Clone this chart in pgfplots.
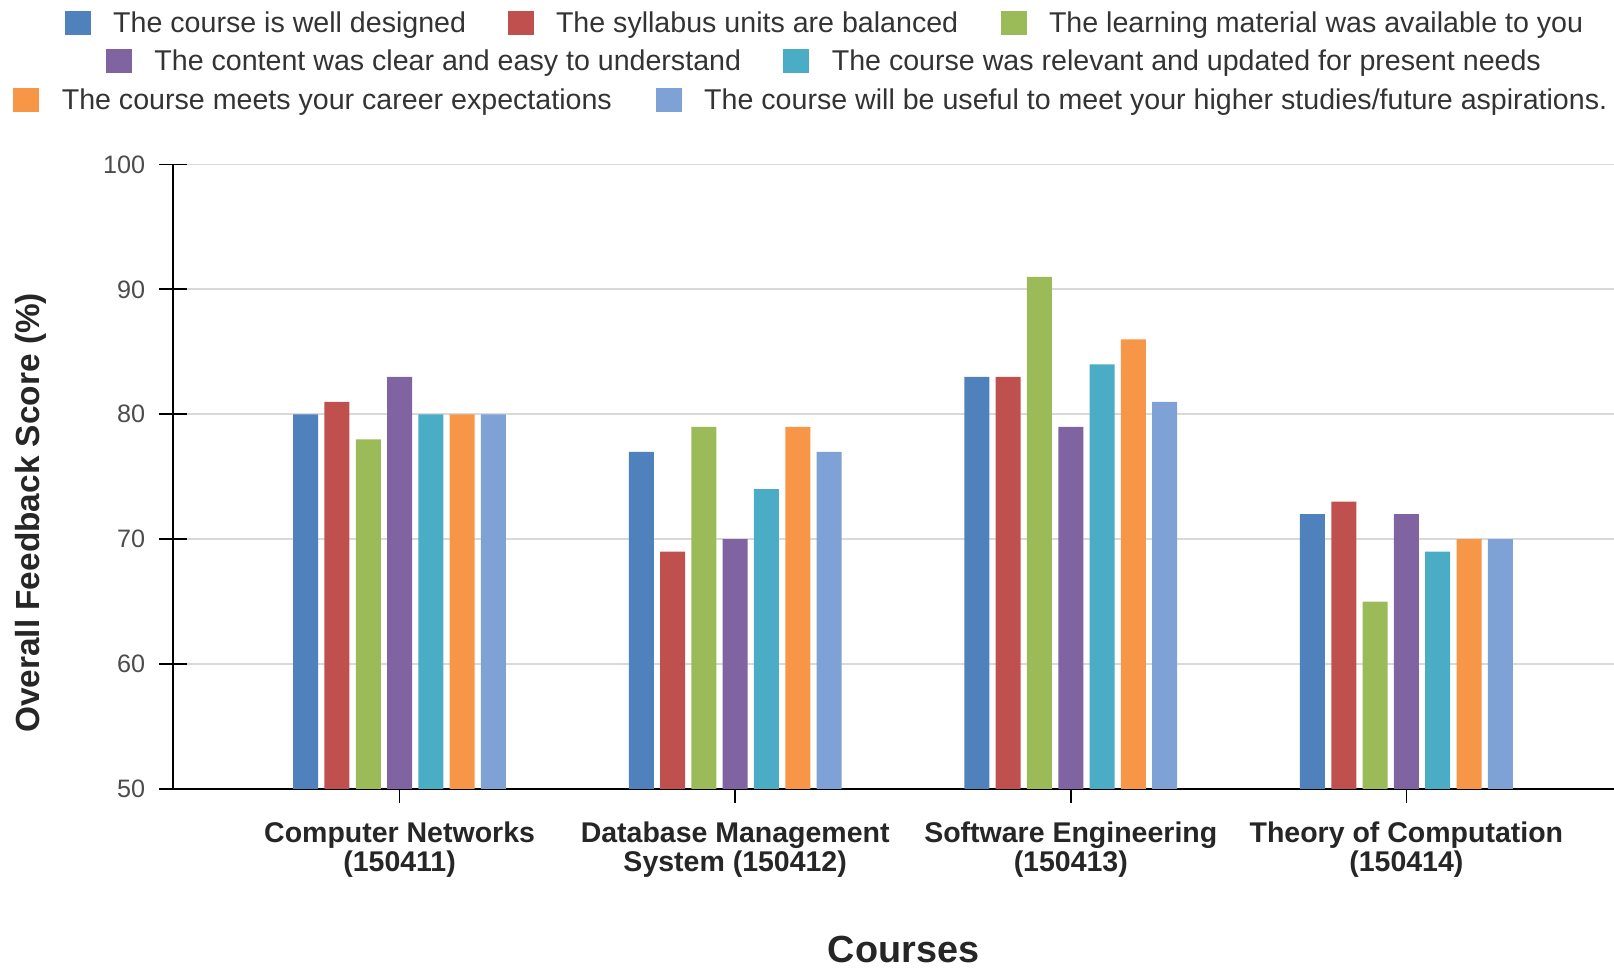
\documentclass[border=0pt]{standalone}
\usepackage{pgfplots}
\pgfplotsset{compat=1.18}
\usepackage{fontspec}
\setmainfont{Liberation Sans}
\definecolor{c1}{HTML}{4F81BD}
\definecolor{c2}{HTML}{C0504D}
\definecolor{c3}{HTML}{9BBB59}
\definecolor{c4}{HTML}{8064A2}
\definecolor{c5}{HTML}{4BACC6}
\definecolor{c6}{HTML}{F79646}
\definecolor{c7}{HTML}{7EA2D5}
\pgfplotsset{
  layers/mylayers/.define layer set={axis background,axis grid,main,axis ticks,axis lines,axis tick labels,axis descriptions,axis foreground}{},
}
\newcommand\legentry[4]{%
  \fill[#3] (#1,#2-6pt) rectangle ++(13pt,12pt);
  \node[anchor=base west, inner sep=0pt, font=\fontsize{14.3}{16}\selectfont, text=black!80] at (#1+24pt,#2-5.1pt) {#4};}
\begin{document}
\begin{tikzpicture}
\begin{axis}[
  set layers=mylayers,
  scale only axis, width=720.5pt, height=312.25pt,
  xmin=-0.6752, xmax=3.6186, ymin=50, ymax=100,
  ytick={50,60,70,80,90,100},
  xtick={0,1,2,3},
  xticklabels={{Computer Networks\\(150411)},{Database Management\\System (150412)},{Software Engineering\\(150413)},{Theory of Computation\\(150414)}},
  axis x line*=bottom, axis y line*=left,
  tick align=center, major tick length=14pt,
  tick style={black, line width=0.9pt},
  xtick style={yshift=7pt},
  axis line style={black, line width=0.9pt},
  ymajorgrids, grid style={draw=black!15, line width=0.9pt},
  ybar=3.15pt, bar width=12.5pt,
  /pgf/number format/assume math mode=true,
  xticklabel style={font=\bfseries\fontsize{14.25}{14.4}\selectfont, align=center, anchor=north, inner sep=0pt, yshift=-2.25pt, text=black!85},
  yticklabel style={font=\fontsize{12.6}{14}\selectfont, anchor=east, inner sep=0pt, xshift=-6.75pt, text=black!70},
  xlabel={Courses},
  every axis x label/.style={at={(axis description cs:0.507,-0.2578)}, anchor=center, font=\bfseries\fontsize{18.9}{22}\selectfont, text=black!85},
  ylabel={Overall Feedback Score (\%)},
  every axis y label/.style={at={(axis description cs:-0.0985,0.442)}, rotate=90, anchor=center, font=\bfseries\fontsize{16.7}{20}\selectfont, text=black!85},
]
\addplot[fill=c1, draw=none] coordinates {(0,80) (1,77) (2,83) (3,72)};
\addplot[fill=c2, draw=none] coordinates {(0,81) (1,69) (2,83) (3,73)};
\addplot[fill=c3, draw=none] coordinates {(0,78) (1,79) (2,91) (3,65)};
\addplot[fill=c4, draw=none] coordinates {(0,83) (1,70) (2,79) (3,72)};
\addplot[fill=c5, draw=none] coordinates {(0,80) (1,74) (2,84) (3,69)};
\addplot[fill=c6, draw=none] coordinates {(0,80) (1,79) (2,86) (3,70)};
\addplot[fill=c7, draw=none] coordinates {(0,80) (1,77) (2,81) (3,70)};
\end{axis}
\legentry{-54.1pt}{383.2pt}{c1}{The course is well designed}
\legentry{167.3pt}{383.2pt}{c2}{The syllabus units are balanced}
\legentry{413.8pt}{383.2pt}{c3}{The learning material was available to you}
\legentry{-33.5pt}{364.15pt}{c4}{The content was clear and easy to understand}
\legentry{305.2pt}{364.15pt}{c5}{The course was relevant and updated for present needs}
\legentry{-79.8pt}{344.6pt}{c6}{The course meets your career expectations}
\legentry{241.4pt}{344.6pt}{c7}{The course will be useful to meet your higher studies/future aspirations.}
\pgfresetboundingbox
\useasboundingbox (-86.5pt,-89.5pt) rectangle (720.5pt,394.5pt);
\end{tikzpicture}
\end{document}
